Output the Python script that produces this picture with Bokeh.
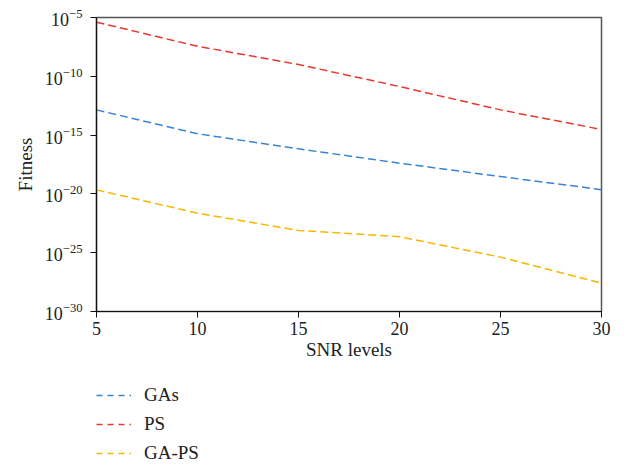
from bokeh.plotting import figure
from bokeh.layouts import column
from bokeh.models import FixedTicker, Legend, LegendItem, LogTickFormatter
from bokeh.embed import file_html
from bokeh.resources import INLINE

snr = [5, 10, 15, 20, 25, 30]
gas = [1.4e-13, 1.3e-15, 6.8e-17, 4.1e-18, 3.0e-19, 2.3e-20]
ps = [4.0e-6, 3.6e-8, 1.0e-9, 1.35e-11, 1.4e-13, 3.0e-15]
gaps = [2.2e-20, 2.3e-22, 7.8e-24, 2.3e-24, 4.2e-26, 2.6e-28]
y_ticks = [1e-30, 1e-25, 1e-20, 1e-15, 1e-10, 1e-5]
x_ticks = [5, 10, 15, 20, 25, 30]
names = ["GAs", "PS", "GA-PS"]
colors = ["#3a83cf", "#e8382e", "#f5b700"]

FONT = "Liberation Serif"

p = figure(frame_width=505, frame_height=294, y_axis_type="log",
           x_range=(5, 30), y_range=(1e-30, 1e-5),
           output_backend="svg", toolbar_location=None,
           min_border_left=96, min_border_right=19,
           min_border_top=17, min_border_bottom=60)
p.xgrid.visible = False
p.ygrid.visible = False
p.outline_line_color = "#555555"
p.outline_line_width = 1.5

for ys, c in zip([gas, ps, gaps], colors):
    p.line(snr, ys, line_color=c, line_width=1.5, line_dash="8 4")

p.xaxis.ticker = FixedTicker(ticks=x_ticks)
p.yaxis.ticker = FixedTicker(ticks=y_ticks)
p.yaxis.formatter = LogTickFormatter()
for ax in (p.xaxis, p.yaxis):
    ax.major_tick_in = 0
    ax.major_tick_out = 6
    ax.minor_tick_line_color = None
    ax.axis_line_color = "#111111"
    ax.major_tick_line_color = "#111111"
    ax.axis_line_width = 1.2
    ax.major_label_text_font = FONT
    ax.major_label_text_font_size = "18px"
    ax.major_label_text_color = "#222222"
    ax.axis_label_text_font = FONT
    ax.axis_label_text_font_size = "19px"
    ax.axis_label_text_font_style = "normal"
    ax.axis_label_text_color = "#222222"
p.xaxis.axis_label = "SNR levels"
p.yaxis.axis_label = "Fitness"
p.xaxis.major_label_standoff = 4
p.xaxis.axis_label_standoff = 1
p.yaxis.major_label_standoff = 8
p.yaxis.axis_label_standoff = 6

# legend panel below the chart
lf = figure(width=620, height=93, x_range=(100, 101), y_range=(1, 2),
            y_axis_type="log", output_backend="svg", toolbar_location=None,
            x_axis_location=None, y_axis_location=None,
            min_border=0, outline_line_color=None)
lf.xgrid.visible = False
lf.ygrid.visible = False
items = []
for ys, c, n in zip([gas, ps, gaps], colors, names):
    r = lf.line(snr, ys, line_color=c, line_width=1.5, line_dash="6 5")
    items.append(LegendItem(label=n, renderers=[r]))

legend = Legend(items=items, location=(0, 0), orientation="vertical",
                glyph_width=35, glyph_height=20, label_height=20,
                label_standoff=13, spacing=7, padding=0, margin=0,
                border_line_color=None, background_fill_alpha=0,
                label_text_font=FONT, label_text_font_size="19px",
                label_text_color="#222222")
lf.add_layout(legend, "center")

layout = column(p, lf, spacing=0)
open("out.html", "w").write(file_html(layout, INLINE))
